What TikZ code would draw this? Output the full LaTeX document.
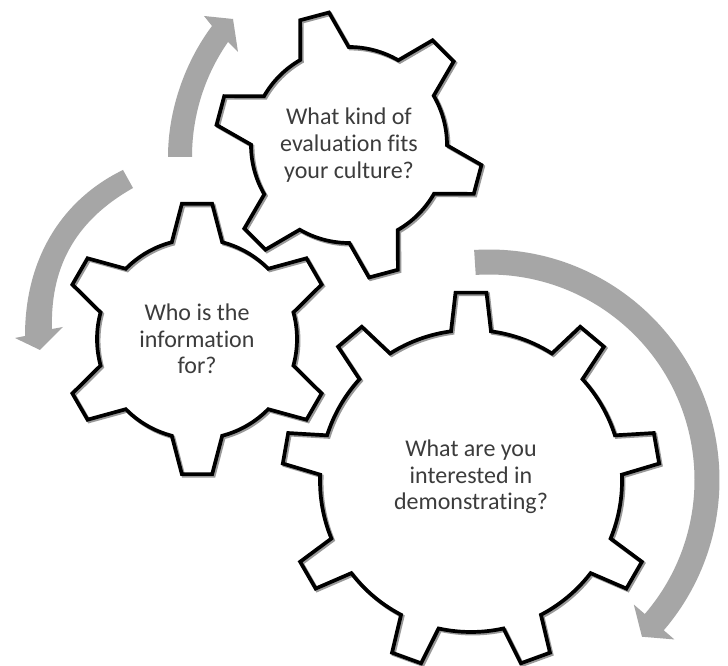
\documentclass[tikz,border=0pt]{standalone}
\usepackage{fontspec}
\setmainfont{Carlito}[Ligatures=CommonOff]
\definecolor{arrowgray}{HTML}{A6A6A6}
\definecolor{txtgray}{HTML}{3C3C3C}
\tikzset{
  gearline/.style={draw=black, line width=3.7pt, line join=miter},
  gearshadow/.style={draw=black!40, line width=3.7pt, line join=miter},
  gearfill/.style={fill=white},
  cyclearrow/.style={fill=arrowgray, draw=none},
  gtext/.style={text=txtgray, align=center, font=\fontsize{24}{26.7}\selectfont, inner sep=0pt}
}
% #1 teeth, #2 first tooth angle, #3 tip radius, #4 root radius, #5 tip half angle, #6 base half angle, #7 style
\newcommand\gearshape[7]{%
  \path[#7] ({#2-#6}:#4)
    \foreach \k in {1,...,#1}{
      -- ({#2+(\k-1)*360/#1-#5}:#3)
      -- ({#2+(\k-1)*360/#1+#5}:#3)
      -- ({#2+(\k-1)*360/#1+#6}:#4)
      arc[start angle={#2+(\k-1)*360/#1+#6}, end angle={#2+\k*360/#1-#6}, radius=#4]
    } -- cycle;}
\newcommand\fullgear[8]{% #1 cx, #2 cy, rest as above
  \begin{scope}[shift={(#1,#2)}]\gearshape{#3}{#4}{#5}{#6}{#7}{#8}{gearfill}\end{scope}
  \begin{scope}[shift={(#1+1.6,#2-1.6)}]\gearshape{#3}{#4}{#5}{#6}{#7}{#8}{gearshadow}\end{scope}
  \begin{scope}[shift={(#1,#2)}]\gearshape{#3}{#4}{#5}{#6}{#7}{#8}{gearline}\end{scope}}
\begin{document}
\begin{tikzpicture}[x=1pt,y=1pt]
\useasboundingbox (0,0) rectangle (728,666);
\fill[white] (0,0) rectangle (728,666);

% circular arrows
\begin{scope}[shift={(489,186)}]
  \fill[cyclearrow] (93.7:230.5) arc[start angle=93.7,end angle=-40.7,radius=230.5]
    -- (-40.7:244.5) -- (-45.7:219) -- (-40.7:191) -- (-40.7:205.5)
    arc[start angle=-40.7,end angle=93.7,radius=205.5] -- cycle;
\end{scope}
\fill[cyclearrow] (168,509) .. controls (168,556) and (185,604) .. (212,640)
  -- (204,650) -- (233,647) -- (238,614) -- (228,624)
  .. controls (205,591) and (192,551) .. (192,509) -- cycle;
\fill[cyclearrow] (123,496) .. controls (65,468) and (25,411) .. (25,330)
  -- (15,328) -- (40,316) -- (63,339) -- (52,337)
  .. controls (50,404) and (80,448) .. (133,478) -- cycle;

% gears
\fullgear{349}{521}{6}{105}{134}{98}{6.4}{14.8}
\fullgear{197}{327}{6}{90}{136}{100}{6.4}{14.6}
\fullgear{471}{185}{9}{90}{189}{151}{4.7}{7.6}

\node[gtext] (culture) at (349,521) {What kind of\\evaluation fits\\your culture?};
\node[gtext] (audience) at (197,327) {Who is the\\information\\for?};
\node[gtext] (interest) at (471,189) {What are you\\interested in\\demonstrating?};
\end{tikzpicture}
\end{document}
